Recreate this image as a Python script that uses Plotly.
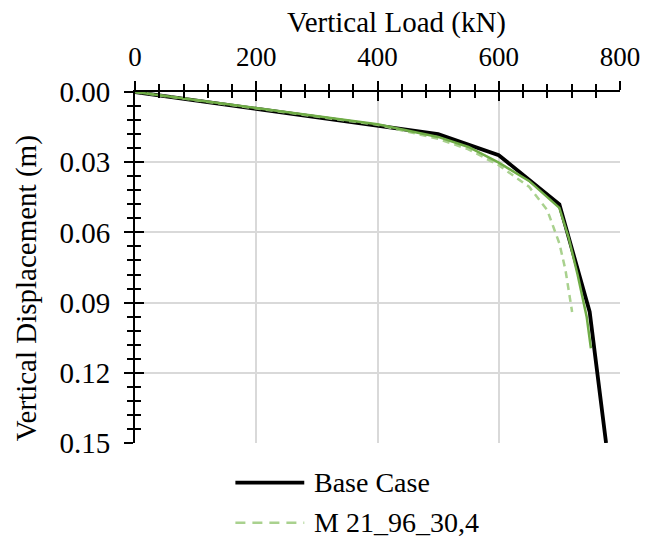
import plotly.graph_objects as go

# Load-displacement curves
base_load = [0, 500, 600, 700, 750, 777]
base_disp = [0.0, 0.018, 0.027, 0.048, 0.094, 0.150]

model_load = [0, 100, 200, 300, 400, 500, 550, 600, 650, 700, 715, 730, 745, 752]
model_disp = [0.0, 0.0035, 0.007, 0.0104, 0.0138, 0.0192, 0.0235, 0.0302, 0.038, 0.0495, 0.062, 0.078, 0.096, 0.1095]

m21_load = [0, 100, 200, 300, 400, 500, 550, 600, 650, 680, 700, 710, 721]
m21_disp = [0.0, 0.0035, 0.007, 0.0105, 0.014, 0.020, 0.0245, 0.0313, 0.0405, 0.0505, 0.0647, 0.076, 0.094]

legend_names = ["Base Case", "M 21_96_30,4"]

BLACK = "#000000"
GREEN = "#70AD47"
LIGHT_GREEN = "#A9D18E"
GRID = "#D9D9D9"
FONT = "Liberation Serif, Times New Roman, Times, serif"

fig = go.Figure()
fig.add_trace(go.Scatter(x=base_load, y=base_disp, mode="lines",
                         line=dict(color=BLACK, width=3.8), showlegend=False))
fig.add_trace(go.Scatter(x=m21_load, y=m21_disp, mode="lines",
                         line=dict(color=LIGHT_GREEN, width=2.5, dash="7px,5px"),
                         showlegend=False))
fig.add_trace(go.Scatter(x=model_load, y=model_disp, mode="lines",
                         line=dict(color=GREEN, width=2.5), showlegend=False))
# empty trace to carry the overlay axes (inner half of crossing ticks)
fig.add_trace(go.Scatter(x=[], y=[], xaxis="x2", yaxis="y2", showlegend=False))

x_tick_font = dict(family=FONT, size=27, color=BLACK)
y_tick_font = dict(family=FONT, size=29, color=BLACK)

common_x = dict(range=[0, 800], dtick=200, tick0=0, zeroline=False,
                showline=True, linecolor=BLACK, linewidth=2,
                tickcolor=BLACK, tickwidth=2, ticklen=9,
                minor=dict(dtick=40, tick0=0, ticklen=6, tickwidth=1.5,
                           tickcolor=BLACK, showgrid=False))
common_y = dict(range=[0.15, 0.0], dtick=0.03, tick0=0, zeroline=False,
                showline=True, linecolor=BLACK, linewidth=2,
                tickcolor=BLACK, tickwidth=2, ticklen=9,
                minor=dict(dtick=0.006, tick0=0, ticklen=6, tickwidth=1.5,
                           tickcolor=BLACK, showgrid=False))

fig.update_layout(
    width=652, height=539,
    margin=dict(l=135, r=24, t=92, b=96),
    paper_bgcolor="white", plot_bgcolor="white",
    showlegend=False,
    font=dict(family=FONT, size=27, color=BLACK),
    xaxis=dict(**common_x, side="top", ticks="outside",
               minor_ticks="outside",
               showgrid=True, gridcolor=GRID, gridwidth=1.5,
               tickfont=x_tick_font, ticklabelstandoff=4, anchor="y"),
    yaxis=dict(**common_y, side="left", ticks="outside",
               minor_ticks="outside",
               showgrid=True, gridcolor=GRID, gridwidth=1.5,
               tickformat=".2f", tickfont=y_tick_font, ticklabelstandoff=8,
               anchor="x"),
    xaxis2=dict(**common_x, overlaying="x", side="top", anchor="y2",
                ticks="inside", minor_ticks="inside", showticklabels=False,
                showgrid=False),
    yaxis2=dict(**common_y, overlaying="y", side="left", anchor="x2",
                ticks="inside", minor_ticks="inside", showticklabels=False,
                showgrid=False),
)

title_font = dict(family=FONT, size=29, color=BLACK)
fig.add_annotation(text="Vertical Load (kN)", xref="paper", yref="paper",
                   x=0.54, y=1.198, xanchor="center", yanchor="middle",
                   showarrow=False, font=title_font)
fig.add_annotation(text="Vertical Displacement (m)", xref="paper", yref="paper",
                   x=-0.222, y=0.442, xanchor="center", yanchor="middle",
                   textangle=-90, showarrow=False, font=title_font)

# Legend drawn below the plot
legend_font = dict(family=FONT, size=28, color=BLACK)
legend_styles = [dict(color=BLACK, width=3.8, dash="solid"),
                 dict(color=LIGHT_GREEN, width=2.5, dash="10px,7px")]
legend_rows = [-0.113, -0.227]
for name, style, yrow in zip(legend_names, legend_styles, legend_rows):
    fig.add_shape(type="line", xref="paper", yref="paper",
                  x0=0.207, x1=0.349, y0=yrow, y1=yrow, line=style)
    fig.add_annotation(text=name, xref="paper", yref="paper",
                       x=0.365, y=yrow, xanchor="left", yanchor="middle",
                       showarrow=False, font=legend_font)

fig.write_html("out.html")
